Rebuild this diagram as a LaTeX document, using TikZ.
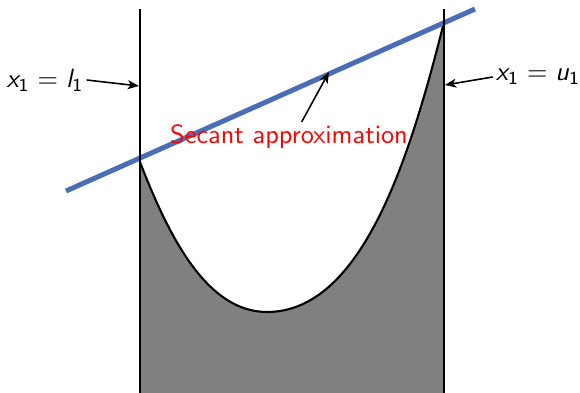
\documentclass[tikz,border=0pt]{standalone}
\usepackage{xcolor}
\usepackage{tikz}
\usetikzlibrary{arrows.meta,positioning,calc}
\definecolor{secantcol}{HTML}{4A6DB5}
\definecolor{regioncol}{HTML}{808080}
\newcommand{\svar}[2]{{\itshape #1}\textsubscript{#2}}

\begin{document}
\begin{tikzpicture}[x=0.38pt,y=-0.38pt,font=\sffamily,
  bound/.style={line width=0.8pt,black},
  secant/.style={line width=1.9pt,secantcol},
  lbl/.style={inner sep=1pt},
  ar/.style={-{Stealth[length=1.5mm,width=1.2mm,inset=0.4mm]},semithick},
]
\useasboundingbox (0,0) rectangle (580,393);
% shaded region under the curve
\fill[regioncol] (140,393) -- (140,162)
  .. controls (170,240) and (208,312) .. (267,312)
  .. controls (362,312) and (410,158) .. (444,22) -- (444,393) -- cycle;
\draw[bound] (140,162)
  .. controls (170,240) and (208,312) .. (267,312)
  .. controls (362,312) and (410,158) .. (444,22);
% secant line
\draw[secant] (66,191) -- (475,9);
% bounds
\draw[bound] (140,9) -- (140,393);
\draw[bound] (444,9) -- (444,393);
\coordinate (lo) at (139,86);
\coordinate (up) at (445,85);
\coordinate (hit) at (329,72);
% labels
\node[lbl] (lbnd) at (45,80) {\svar{x}{1}\kern3pt=\kern3pt\svar{l}{1}};
\node[lbl] (ubnd) at (538,77) {\svar{x}{1}\kern3pt=\kern3pt\svar{u}{1}};
\node[lbl,text=red] (sec) at (289,137) {Secant approximation};
\draw[ar] (lbnd.east) -- (lo);
\draw[ar] (ubnd.west) -- (up);
\draw[ar] (sec.50) -- (hit);
\end{tikzpicture}
\end{document}
